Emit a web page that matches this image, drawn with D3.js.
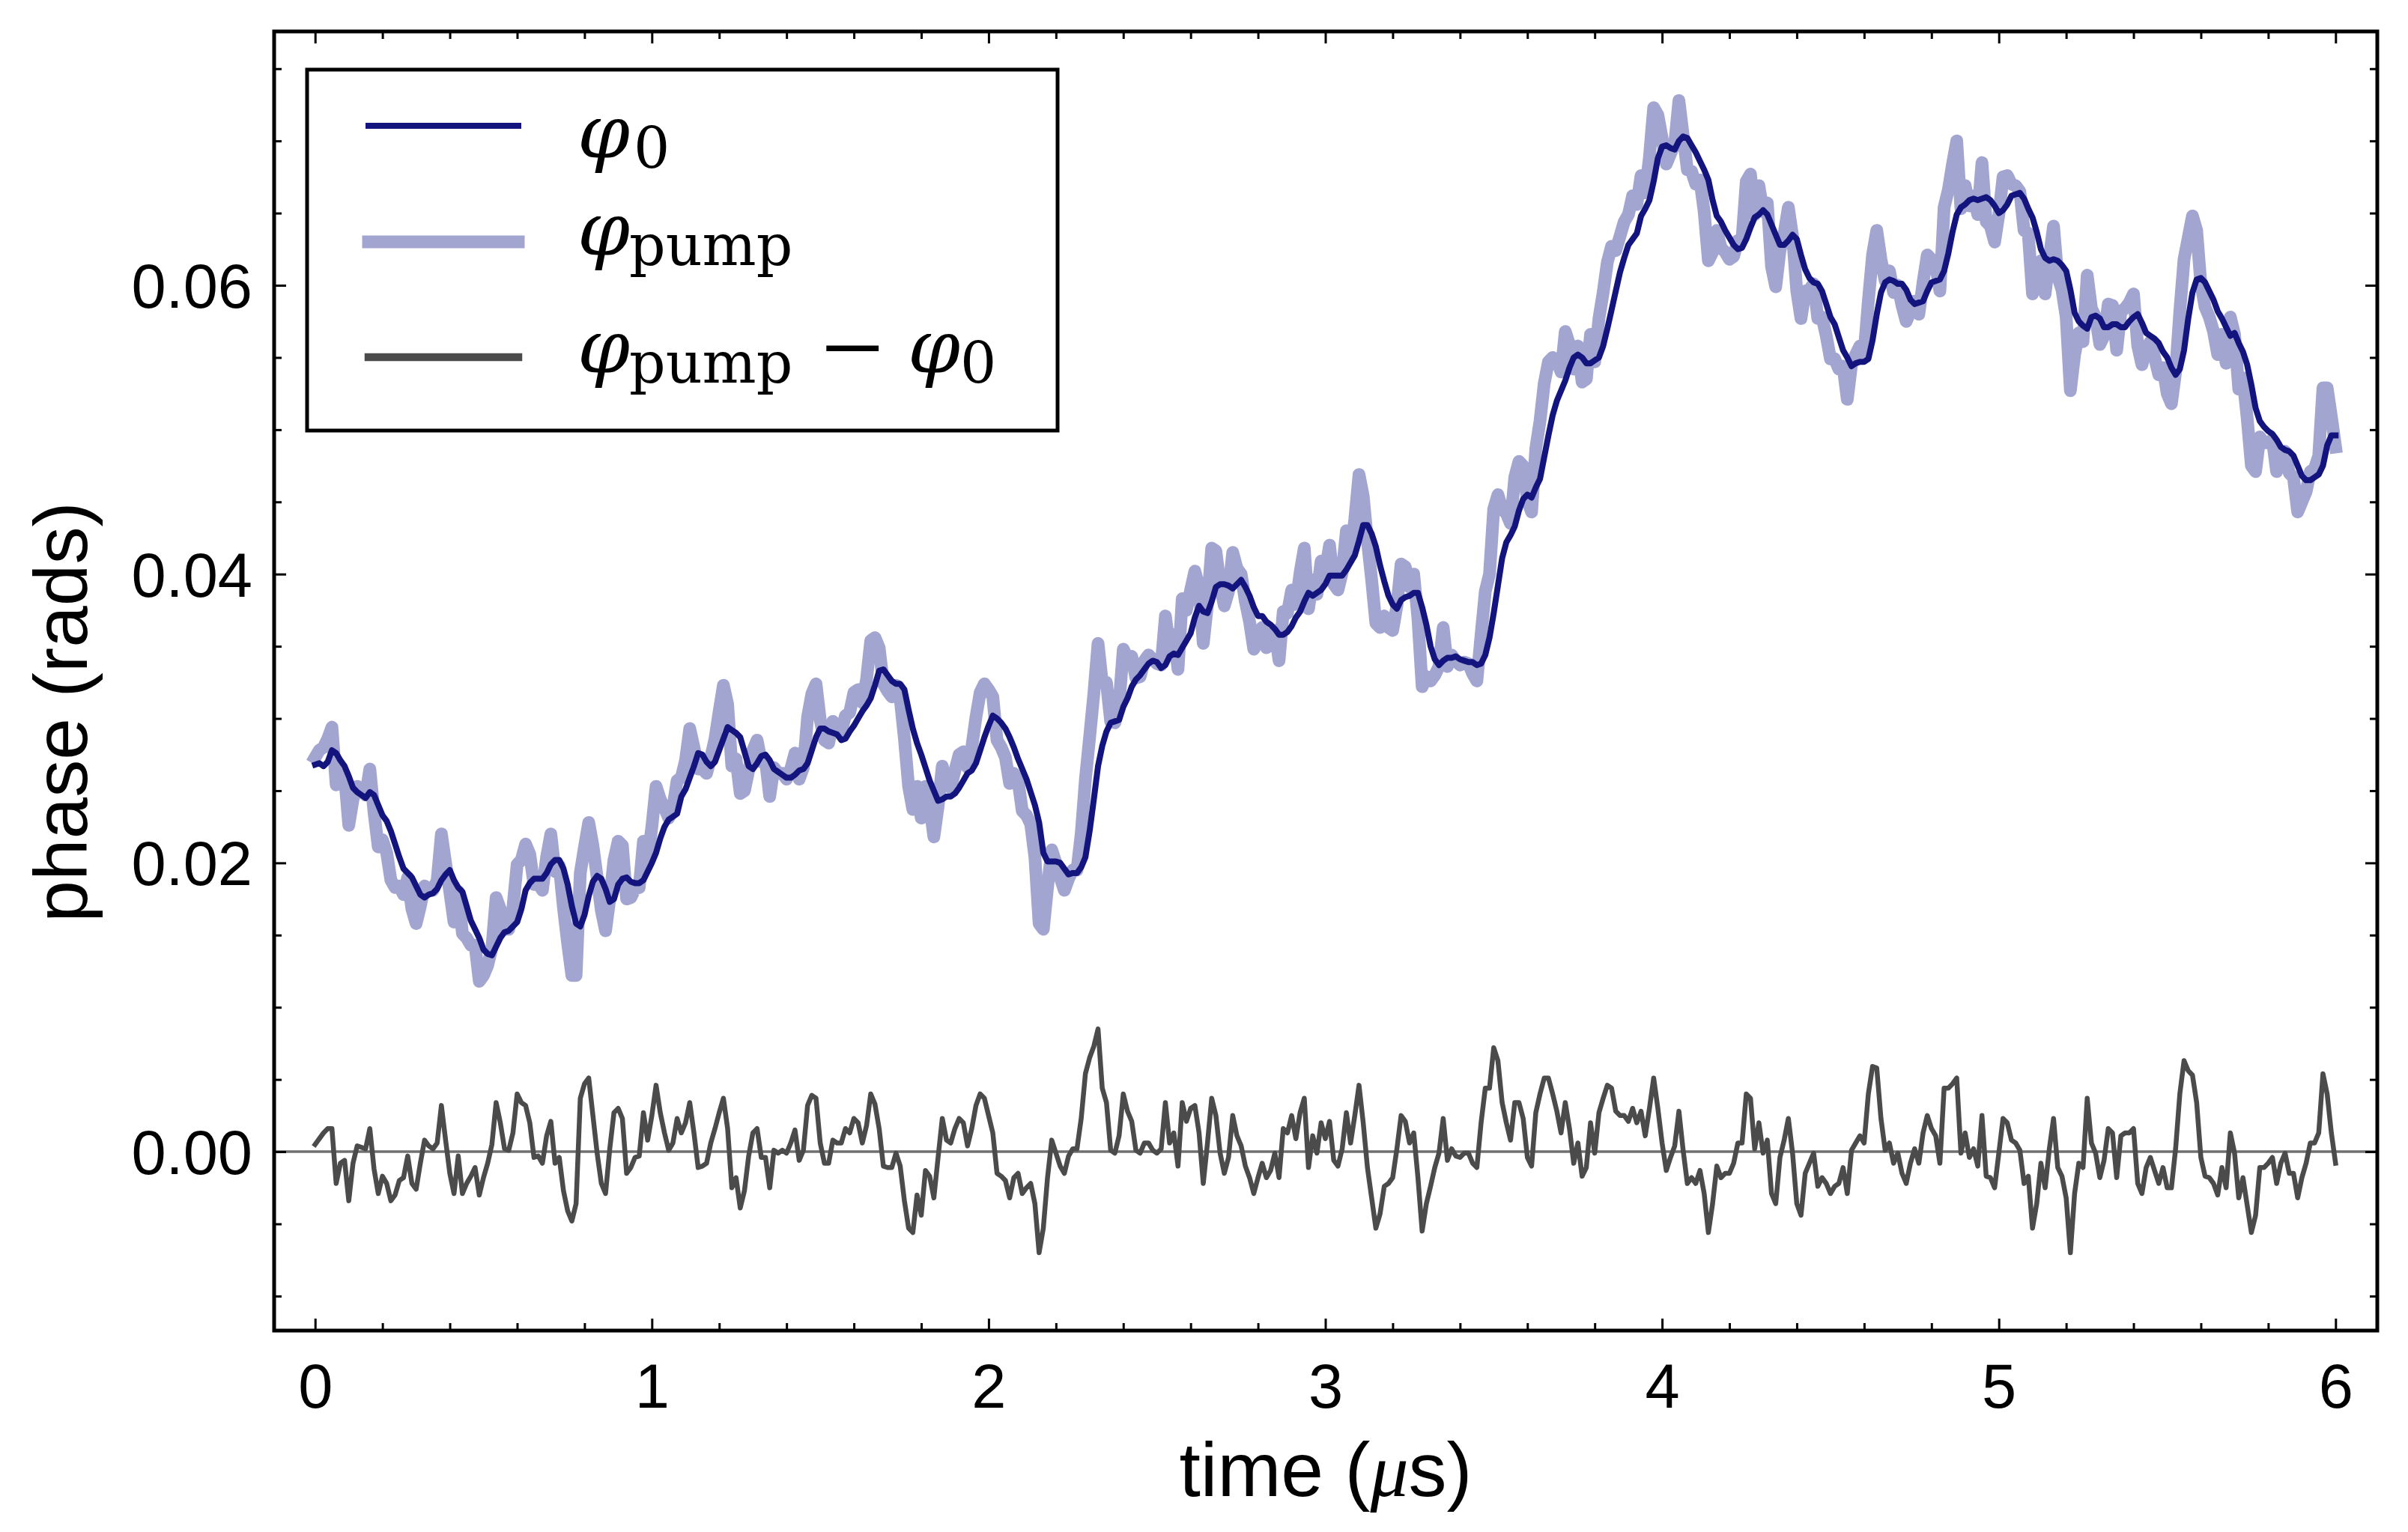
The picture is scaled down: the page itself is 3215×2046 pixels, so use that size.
<!DOCTYPE html>
<html>
<head>
<meta charset="utf-8">
<script src="https://cdn.jsdelivr.net/npm/d3@7"></script>
<style>
  html, body { margin: 0; padding: 0; background: #ffffff; }
  svg { display: block; }
</style>
</head>
<body>
<div id="chart"></div>
<script>
// phase samples, one every 0.0125 μs from 0 to 6 μs
const sampleStep = 0.0125;

const phi0 = [
  0.0268, 0.0269, 0.0267, 0.0270, 0.0278, 0.0276, 0.0271, 0.0267, 0.0260, 0.0252,
  0.0249, 0.0247, 0.0245, 0.0249, 0.0247, 0.0240, 0.0233, 0.0229, 0.0222, 0.0213,
  0.0204, 0.0196, 0.0193, 0.0190, 0.0184, 0.0178, 0.0176, 0.0178, 0.0179, 0.0182,
  0.0188, 0.0192, 0.0195, 0.0188, 0.0183, 0.0180, 0.0170, 0.0160, 0.0154, 0.0148,
  0.0140, 0.0137, 0.0136, 0.0142, 0.0148, 0.0152, 0.0153, 0.0156, 0.0159, 0.0168,
  0.0181, 0.0186, 0.0189, 0.0189, 0.0189, 0.0193, 0.0199, 0.0202, 0.0202, 0.0196,
  0.0185, 0.0170, 0.0158, 0.0156, 0.0164, 0.0177, 0.0187, 0.0191, 0.0189, 0.0182,
  0.0173, 0.0175, 0.0185, 0.0189, 0.0190, 0.0187, 0.0186, 0.0186, 0.0188, 0.0194,
  0.0200, 0.0207, 0.0217, 0.0225, 0.0230, 0.0232, 0.0234, 0.0246, 0.0251, 0.0259,
  0.0267, 0.0276, 0.0275, 0.0270, 0.0267, 0.0270, 0.0278, 0.0286, 0.0294, 0.0292,
  0.0290, 0.0287, 0.0277, 0.0267, 0.0265, 0.0269, 0.0274, 0.0275, 0.0271, 0.0265,
  0.0263, 0.0261, 0.0259, 0.0259, 0.0261, 0.0264, 0.0265, 0.0269, 0.0278, 0.0287,
  0.0293, 0.0293, 0.0291, 0.0290, 0.0289, 0.0285, 0.0286, 0.0291, 0.0295, 0.0300,
  0.0305, 0.0309, 0.0314, 0.0323, 0.0333, 0.0334, 0.0330, 0.0326, 0.0324, 0.0324,
  0.0320, 0.0306, 0.0293, 0.0283, 0.0275, 0.0266, 0.0257, 0.0250, 0.0243, 0.0244,
  0.0246, 0.0246, 0.0248, 0.0252, 0.0257, 0.0262, 0.0264, 0.0269, 0.0278, 0.0287,
  0.0295, 0.0302, 0.0300, 0.0297, 0.0293, 0.0287, 0.0280, 0.0272, 0.0265, 0.0258,
  0.0249, 0.0240, 0.0228, 0.0207, 0.0201, 0.0201, 0.0201, 0.0200, 0.0196, 0.0192,
  0.0193, 0.0193, 0.0197, 0.0204, 0.0222, 0.0244, 0.0267, 0.0281, 0.0291, 0.0297,
  0.0298, 0.0299, 0.0308, 0.0314, 0.0322, 0.0327, 0.0330, 0.0334, 0.0338, 0.0340,
  0.0339, 0.0335, 0.0337, 0.0343, 0.0345, 0.0344, 0.0349, 0.0354, 0.0359, 0.0370,
  0.0378, 0.0374, 0.0373, 0.0381, 0.0391, 0.0393, 0.0393, 0.0392, 0.0390, 0.0393,
  0.0396, 0.0391, 0.0385, 0.0377, 0.0371, 0.0371, 0.0367, 0.0365, 0.0362, 0.0358,
  0.0358, 0.0360, 0.0364, 0.0370, 0.0374, 0.0381, 0.0387, 0.0385, 0.0387, 0.0389,
  0.0393, 0.0399, 0.0399, 0.0399, 0.0399, 0.0403, 0.0408, 0.0413, 0.0423, 0.0434,
  0.0434, 0.0428, 0.0419, 0.0406, 0.0395, 0.0385, 0.0379, 0.0376, 0.0382, 0.0384,
  0.0385, 0.0387, 0.0387, 0.0377, 0.0365, 0.0350, 0.0341, 0.0337, 0.0340, 0.0342,
  0.0342, 0.0343, 0.0341, 0.0340, 0.0339, 0.0339, 0.0337, 0.0338, 0.0344, 0.0356,
  0.0373, 0.0392, 0.0411, 0.0422, 0.0427, 0.0433, 0.0444, 0.0452, 0.0455, 0.0453,
  0.0460, 0.0466, 0.0481, 0.0496, 0.0510, 0.0520, 0.0527, 0.0534, 0.0543, 0.0550,
  0.0552, 0.0550, 0.0546, 0.0546, 0.0548, 0.0550, 0.0558, 0.0570, 0.0583, 0.0596,
  0.0609, 0.0619, 0.0628, 0.0632, 0.0636, 0.0648, 0.0653, 0.0659, 0.0672, 0.0688,
  0.0696, 0.0697, 0.0695, 0.0694, 0.0700, 0.0703, 0.0702, 0.0697, 0.0692, 0.0686,
  0.0680, 0.0673, 0.0659, 0.0648, 0.0644, 0.0638, 0.0633, 0.0628, 0.0625, 0.0626,
  0.0632, 0.0640, 0.0647, 0.0649, 0.0652, 0.0649, 0.0642, 0.0635, 0.0628, 0.0628,
  0.0631, 0.0635, 0.0632, 0.0621, 0.0611, 0.0605, 0.0602, 0.0601, 0.0596, 0.0587,
  0.0578, 0.0573, 0.0564, 0.0555, 0.0550, 0.0544, 0.0546, 0.0547, 0.0547, 0.0549,
  0.0562, 0.0580, 0.0595, 0.0602, 0.0604, 0.0603, 0.0601, 0.0601, 0.0597, 0.0590,
  0.0587, 0.0588, 0.0589, 0.0596, 0.0602, 0.0603, 0.0604, 0.0610, 0.0622, 0.0637,
  0.0649, 0.0654, 0.0656, 0.0659, 0.0660, 0.0659, 0.0660, 0.0661, 0.0659, 0.0655,
  0.0650, 0.0652, 0.0656, 0.0662, 0.0663, 0.0664, 0.0660, 0.0653, 0.0647, 0.0637,
  0.0625, 0.0619, 0.0617, 0.0618, 0.0617, 0.0614, 0.0610, 0.0597, 0.0581, 0.0575,
  0.0572, 0.0570, 0.0578, 0.0579, 0.0577, 0.0571, 0.0571, 0.0573, 0.0573, 0.0571,
  0.0571, 0.0575, 0.0578, 0.0580, 0.0574, 0.0567, 0.0565, 0.0563, 0.0560, 0.0554,
  0.0550, 0.0543, 0.0538, 0.0542, 0.0555, 0.0577, 0.0595, 0.0604, 0.0605, 0.0602,
  0.0596, 0.0590, 0.0582, 0.0577, 0.0571, 0.0565, 0.0567, 0.0560, 0.0554, 0.0545,
  0.0531, 0.0515, 0.0506, 0.0502, 0.0499, 0.0497, 0.0493, 0.0488, 0.0486, 0.0485,
  0.0482, 0.0475, 0.0468, 0.0465, 0.0465, 0.0467, 0.0469, 0.0475, 0.0489, 0.0496,
  0.0496
];

// φpump − φ0, same sample times
const phiDiff = [
  0.0005, 0.0009, 0.0013, 0.0016, 0.0016, -0.0022, -0.0008, -0.0006, -0.0034, -0.0008,
  0.0004, 0.0003, 0.0002, 0.0016, -0.0012, -0.0029, -0.0017, -0.0022, -0.0034, -0.0030,
  -0.0020, -0.0018, -0.0003, -0.0022, -0.0026, -0.0008, 0.0008, 0.0004, 0.0002, 0.0006,
  0.0032, 0.0008, -0.0015, -0.0029, -0.0003, -0.0029, -0.0022, -0.0017, -0.0011, -0.0030,
  -0.0018, -0.0008, 0.0005, 0.0034, 0.0020, 0.0002, 0.0001, 0.0013, 0.0040, 0.0034,
  0.0032, 0.0020, -0.0004, -0.0003, -0.0008, 0.0011, 0.0021, -0.0008, -0.0004, -0.0027,
  -0.0041, -0.0048, -0.0036, 0.0037, 0.0047, 0.0051, 0.0025, -0.0001, -0.0022, -0.0029,
  0.0002, 0.0027, 0.0030, 0.0023, -0.0015, -0.0011, -0.0004, -0.0003, 0.0027, 0.0008,
  0.0025, 0.0046, 0.0027, 0.0013, 0.0001, 0.0006, 0.0023, 0.0013, 0.0020, 0.0034,
  0.0013, -0.0011, -0.0010, -0.0008, 0.0006, 0.0016, 0.0027, 0.0037, 0.0016, -0.0025,
  -0.0018, -0.0039, -0.0027, -0.0003, 0.0013, 0.0016, -0.0004, -0.0004, -0.0025, 0.0001,
  -0.0001, 0.0001, -0.0001, 0.0006, 0.0015, -0.0006, 0.0001, 0.0032, 0.0039, 0.0037,
  0.0006, -0.0008, -0.0008, 0.0008, 0.0006, 0.0006, 0.0016, 0.0013, 0.0023, 0.0020,
  0.0006, 0.0018, 0.0040, 0.0033, 0.0016, -0.0010, -0.0011, -0.0011, -0.0001, -0.0010,
  -0.0034, -0.0053, -0.0056, -0.0030, -0.0044, -0.0013, -0.0017, -0.0032, -0.0004, 0.0023,
  0.0008, 0.0006, 0.0016, 0.0023, 0.0020, 0.0004, 0.0016, 0.0032, 0.0040, 0.0037,
  0.0025, 0.0013, -0.0015, -0.0017, -0.0020, -0.0032, -0.0018, -0.0015, -0.0029, -0.0025,
  -0.0022, -0.0036, -0.0070, -0.0053, -0.0018, 0.0008, -0.0001, -0.0010, -0.0015, -0.0003,
  0.0002, 0.0002, 0.0023, 0.0054, 0.0065, 0.0073, 0.0085, 0.0044, 0.0034, 0.0001,
  -0.0001, 0.0011, 0.0040, 0.0028, 0.0021, 0.0001, -0.0001, 0.0006, 0.0006, 0.0001,
  -0.0001, 0.0002, 0.0034, 0.0006, 0.0013, -0.0010, 0.0034, 0.0021, 0.0030, 0.0032,
  0.0013, -0.0022, 0.0006, 0.0037, 0.0025, -0.0001, -0.0015, -0.0004, 0.0025, 0.0011,
  0.0004, -0.0010, -0.0018, -0.0029, -0.0018, -0.0008, -0.0018, -0.0013, -0.0001, -0.0018,
  0.0016, 0.0013, 0.0025, 0.0009, 0.0027, 0.0037, -0.0011, 0.0011, -0.0001, 0.0020,
  0.0009, 0.0021, -0.0006, -0.0010, 0.0002, 0.0027, 0.0006, 0.0025, 0.0046, 0.0020,
  -0.0011, -0.0032, -0.0053, -0.0043, -0.0024, -0.0022, -0.0018, 0.0002, 0.0025, 0.0021,
  0.0006, 0.0013, -0.0018, -0.0055, -0.0036, -0.0024, -0.0011, -0.0001, 0.0023, -0.0006,
  0.0002, -0.0003, -0.0004, -0.0001, -0.0001, -0.0008, -0.0011, 0.0020, 0.0044, 0.0044,
  0.0072, 0.0063, 0.0034, 0.0020, 0.0008, 0.0034, 0.0034, 0.0023, -0.0004, -0.0010,
  0.0027, 0.0040, 0.0051, 0.0051, 0.0040, 0.0028, 0.0013, 0.0034, 0.0016, -0.0008,
  0.0006, -0.0017, -0.0011, 0.0020, -0.0001, 0.0027, 0.0037, 0.0046, 0.0044, 0.0028,
  0.0025, 0.0025, 0.0021, 0.0030, 0.0020, 0.0028, 0.0011, 0.0030, 0.0051, 0.0030,
  0.0006, -0.0013, -0.0004, 0.0004, 0.0028, 0.0001, -0.0022, -0.0018, -0.0022, -0.0013,
  -0.0029, -0.0056, -0.0036, -0.0010, -0.0018, -0.0015, -0.0015, -0.0008, 0.0006, 0.0006,
  0.0040, 0.0037, 0.0002, 0.0020, -0.0001, 0.0008, -0.0029, -0.0036, -0.0004, 0.0008,
  0.0023, -0.0001, -0.0036, -0.0044, -0.0015, -0.0008, -0.0001, -0.0024, -0.0018, -0.0022,
  -0.0029, -0.0024, -0.0022, -0.0011, -0.0029, 0.0001, 0.0006, 0.0011, 0.0006, 0.0040,
  0.0059, 0.0058, 0.0023, 0.0001, 0.0006, -0.0008, -0.0001, -0.0015, -0.0022, -0.0008,
  0.0002, -0.0008, 0.0013, 0.0025, 0.0016, 0.0011, -0.0008, 0.0044, 0.0044, 0.0047,
  0.0051, -0.0001, 0.0013, -0.0004, 0.0002, -0.0010, 0.0025, -0.0017, -0.0018, -0.0025,
  -0.0001, 0.0023, 0.0020, 0.0008, 0.0006, 0.0001, -0.0022, -0.0017, -0.0053, -0.0036,
  -0.0008, -0.0025, 0.0002, 0.0023, -0.0011, -0.0017, -0.0032, -0.0070, -0.0029, -0.0008,
  -0.0011, 0.0037, 0.0006, -0.0001, -0.0018, -0.0006, 0.0016, 0.0013, -0.0018, 0.0011,
  0.0013, 0.0013, 0.0016, -0.0022, -0.0029, -0.0011, -0.0004, -0.0013, -0.0022, -0.0011,
  -0.0025, -0.0025, 0.0002, 0.0040, 0.0063, 0.0056, 0.0053, 0.0034, -0.0004, -0.0017,
  -0.0018, -0.0022, -0.0030, -0.0011, -0.0025, 0.0013, -0.0001, -0.0032, -0.0018, -0.0037,
  -0.0056, -0.0044, -0.0011, -0.0011, -0.0008, -0.0004, -0.0022, -0.0008, -0.0001, -0.0015,
  -0.0015, -0.0032, -0.0018, -0.0008, 0.0006, 0.0006, 0.0013, 0.0054, 0.0040, 0.0013,
  -0.0008
];

const xMajorTicks = [0, 1, 2, 3, 4, 5, 6];
const yMajorTicks = [0, 0.02, 0.04, 0.06];

const legendRows = [
  [{ text: "φ", kind: "var" }, { text: "0", kind: "sub" }],
  [{ text: "φ", kind: "var" }, { text: "pump", kind: "sub" }],
  [{ text: "φ", kind: "var" }, { text: "pump", kind: "sub" }, { text: "−", kind: "op" }, { text: "φ", kind: "var" }, { text: "0", kind: "sub" }]
];

const width = 3215;
const height = 2046;
const frame = { left: 366, right: 3174, top: 42, bottom: 1777 };
const colors = { phi0: "#14147f", pump: "#a3a5d1", diff: "#4b4b4b", zero: "#707070" };
const tickFont = "'Liberation Sans', Arial, Helvetica, sans-serif";
const mathFont = "'DejaVu Serif', 'Liberation Serif', serif";
const thinMathFont = "'Liberation Serif', 'Times New Roman', serif";

const x = d3.scaleLinear().domain([-0.1217, 6.1239]).range([frame.left, frame.right]);
const y = d3.scaleLinear().domain([-0.01239, 0.07758]).range([frame.bottom, frame.top]);

const times = phi0.map((_, i) => i * sampleStep);
// the plotted difference is φpump − φ0, so φpump is φ0 plus it
const phiPump = phi0.map((value, i) => value + phiDiff[i]);

const svg = d3
  .select("#chart")
  .append("svg")
  .attr("width", width)
  .attr("height", height)
  .attr("viewBox", `0 0 ${width} ${height}`);

svg.append("rect").attr("width", width).attr("height", height).attr("fill", "#ffffff");

svg
  .append("defs")
  .append("clipPath")
  .attr("id", "plot-clip")
  .append("rect")
  .attr("x", frame.left)
  .attr("y", frame.top)
  .attr("width", frame.right - frame.left)
  .attr("height", frame.bottom - frame.top);

const plot = svg.append("g").attr("clip-path", "url(#plot-clip)");

plot
  .append("line")
  .attr("x1", frame.left)
  .attr("x2", frame.right)
  .attr("y1", y(0))
  .attr("y2", y(0))
  .attr("stroke", colors.zero)
  .attr("stroke-width", 3.5);

const line = d3
  .line()
  .x((d) => x(d[0]))
  .y((d) => y(d[1]));

const drawSeries = (values, color, strokeWidth) =>
  plot
    .append("path")
    .datum(times.map((t, i) => [t, values[i]]))
    .attr("fill", "none")
    .attr("stroke", color)
    .attr("stroke-width", strokeWidth)
    .attr("stroke-linejoin", "round")
    .attr("stroke-linecap", "square")
    .attr("d", line);

drawSeries(phiDiff, colors.diff, 6.5);
drawSeries(phiPump, colors.pump, 17);
drawSeries(phi0, colors.phi0, 8);

// ticks on all four sides, pointing inward
const xMinorTicks = d3.range(1, 31).map((i) => i / 5).filter((v) => !Number.isInteger(v));
const yMinorTicks = d3.range(-2, 16).filter((i) => i % 4 !== 0).map((i) => i * 0.005);

const tidyAxis = (g) => {
  g.select(".domain").remove();
  g.selectAll(".tick line").attr("stroke", "#000000").attr("stroke-width", 3);
};

svg
  .append("g")
  .attr("transform", `translate(0,${frame.bottom})`)
  .call(d3.axisBottom(x).tickValues(xMajorTicks).tickSize(-16).tickFormat(d3.format("d")))
  .call(tidyAxis)
  .call((g) =>
    g
      .selectAll("text")
      .attr("y", 103)
      .attr("dy", null)
      .attr("fill", "#000000")
      .attr("font-family", tickFont)
      .attr("font-size", 83)
  );

svg
  .append("g")
  .attr("transform", `translate(0,${frame.bottom})`)
  .call(d3.axisBottom(x).tickValues(xMinorTicks).tickSize(-10).tickFormat(""))
  .call(tidyAxis);

svg
  .append("g")
  .attr("transform", `translate(0,${frame.top})`)
  .call(d3.axisTop(x).tickValues(xMajorTicks).tickSize(-16).tickFormat(""))
  .call(tidyAxis);

svg
  .append("g")
  .attr("transform", `translate(0,${frame.top})`)
  .call(d3.axisTop(x).tickValues(xMinorTicks).tickSize(-10).tickFormat(""))
  .call(tidyAxis);

svg
  .append("g")
  .attr("transform", `translate(${frame.left},0)`)
  .call(d3.axisLeft(y).tickValues(yMajorTicks).tickSize(-16).tickFormat(d3.format(".2f")))
  .call(tidyAxis)
  .call((g) =>
    g
      .selectAll("text")
      .attr("x", -29)
      .attr("dy", "0.355em")
      .attr("fill", "#000000")
      .attr("font-family", tickFont)
      .attr("font-size", 83)
  );

svg
  .append("g")
  .attr("transform", `translate(${frame.left},0)`)
  .call(d3.axisLeft(y).tickValues(yMinorTicks).tickSize(-10).tickFormat(""))
  .call(tidyAxis);

svg
  .append("g")
  .attr("transform", `translate(${frame.right},0)`)
  .call(d3.axisRight(y).tickValues(yMajorTicks).tickSize(-16).tickFormat(""))
  .call(tidyAxis);

svg
  .append("g")
  .attr("transform", `translate(${frame.right},0)`)
  .call(d3.axisRight(y).tickValues(yMinorTicks).tickSize(-10).tickFormat(""))
  .call(tidyAxis);

svg
  .append("rect")
  .attr("x", frame.left)
  .attr("y", frame.top)
  .attr("width", frame.right - frame.left)
  .attr("height", frame.bottom - frame.top)
  .attr("fill", "none")
  .attr("stroke", "#000000")
  .attr("stroke-width", 5);

// axis labels
const xLabel = svg
  .append("text")
  .attr("x", (frame.left + frame.right) / 2)
  .attr("y", 1998)
  .attr("text-anchor", "middle")
  .attr("font-family", tickFont)
  .attr("font-size", 102)
  .attr("fill", "#000000");
xLabel.append("tspan").text("time (");
xLabel.append("tspan").attr("font-family", thinMathFont).attr("font-style", "italic").text("μ");
xLabel.append("tspan").text("s)");

svg
  .append("text")
  .attr("transform", "translate(116,951) rotate(-90)")
  .attr("text-anchor", "middle")
  .attr("font-family", tickFont)
  .attr("font-size", 100)
  .attr("fill", "#000000")
  .text("phase (rads)");

// legend
const legend = svg.append("g");
legend
  .append("rect")
  .attr("x", 410)
  .attr("y", 93)
  .attr("width", 1002)
  .attr("height", 482)
  .attr("fill", "#ffffff")
  .attr("stroke", "#000000")
  .attr("stroke-width", 5);

const legendHandles = [
  { color: colors.phi0, width: 8, y: 168 },
  { color: colors.pump, width: 17, y: 323 },
  { color: colors.diff, width: 10.5, y: 477 }
];
const legendBaselines = [210, 340, 497];
const legendPartX = [[771, 846], [771, 840], [771, 840, 1096, 1212, 1282]];

legendHandles.forEach((handle, row) => {
  legend
    .append("line")
    .attr("x1", 492)
    .attr("x2", 692)
    .attr("y1", handle.y)
    .attr("y2", handle.y)
    .attr("stroke", handle.color)
    .attr("stroke-width", handle.width)
    .attr("stroke-linecap", "square");

  const label = legend.append("text").attr("fill", "#000000");

  legendRows[row].forEach((part, i) => {
    const span = label.append("tspan").attr("x", legendPartX[row][i]).text(part.text);
    if (part.kind === "sub") {
      span
        .attr("y", legendBaselines[row] + 14)
        .attr("font-family", mathFont)
        .attr("font-size", 76);
    } else if (part.kind === "op") {
      span
        .attr("y", legendBaselines[row] + 18)
        .attr("font-family", thinMathFont)
        .attr("font-size", 150);
    } else {
      span
        .attr("y", legendBaselines[row])
        .attr("font-family", mathFont)
        .attr("font-style", "italic")
        .attr("font-size", 100);
    }
  });
});
</script>
</body>
</html>
